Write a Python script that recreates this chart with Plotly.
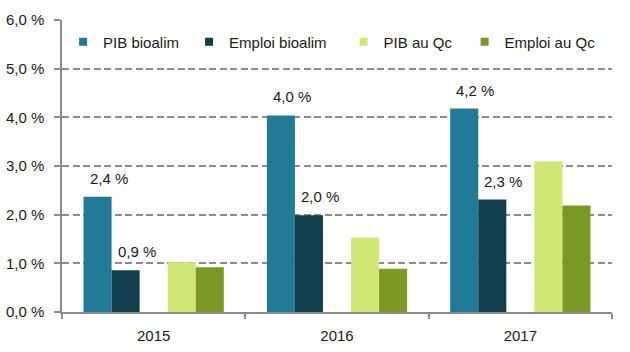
import plotly.graph_objects as go

categories = ["2015", "2016", "2017"]
series_names = ["PIB bioalim", "Emploi bioalim", "PIB au Qc", "Emploi au Qc"]
pib_bioalim = [2.37, 4.04, 4.18]
emploi_bioalim = [0.86, 1.99, 2.31]
pib_qc = [1.02, 1.53, 3.09]
emploi_qc = [0.92, 0.89, 2.19]
y_tick_vals = [0, 1, 2, 3, 4, 5, 6]
y_tick_text = ["0,0 %", "1,0 %", "2,0 %", "3,0 %", "4,0 %", "5,0 %", "6,0 %"]

colors = ["#217a96", "#123f4e", "#d0e775", "#7a9a25"]
FONT = "Liberation Sans, Arial, sans-serif"
TXT = "#1a1a1a"

fig = go.Figure()
values = [pib_bioalim, emploi_bioalim, pib_qc, emploi_qc]

def add_bar(name, vals, color):
    fig.add_trace(go.Bar(x=categories, y=vals, name=name, marker=dict(color=color, line=dict(width=0)),
                         showlegend=False))

add_bar(series_names[0], values[0], colors[0])
add_bar(series_names[1], values[1], colors[1])
# spacer slot between bioalim and Qc groups
fig.add_trace(go.Bar(x=categories, y=[0, 0, 0], showlegend=False, hoverinfo="skip",
                     marker=dict(color="rgba(0,0,0,0)", line=dict(width=0))))
add_bar(series_names[2], values[2], colors[2])
add_bar(series_names[3], values[3], colors[3])

# legend entries (small squares), each in its own legend, on a hidden helper axis
legend_x = [0.002, 0.231, 0.512, 0.732]
for i, (name, c) in enumerate(zip(series_names, colors)):
    lname = "legend" if i == 0 else f"legend{i+1}"
    fig.add_trace(go.Scatter(x=[0], y=[0], mode="markers", name=name, xaxis="x2", yaxis="y2",
                             hoverinfo="skip",
                             marker=dict(symbol="square", size=8, color=c), legend=lname))

def fmt(v):
    return f"{v:.1f} %".replace(".", ",")

for vals, xs in [(pib_bioalim, -56), (emploi_bioalim, -28)]:
    for idx, v in enumerate(vals):
        fig.add_annotation(x=idx, y=v, text=fmt(v), showarrow=False, xref="x", yref="y",
                           xanchor="center", yanchor="bottom", xshift=xs + 11, yshift=8,
                           font=dict(family=FONT, size=15, color=TXT))

legends = {}
for i in range(4):
    key = "legend" if i == 0 else f"legend{i+1}"
    legends[key] = dict(x=legend_x[i], y=0.925, xanchor="left", yanchor="middle",
                        orientation="h", bgcolor="rgba(0,0,0,0)", borderwidth=0,
                        font=dict(family=FONT, size=15, color=TXT), itemwidth=30)

fig.update_layout(
    width=630, height=352,
    margin=dict(l=62, r=18, t=20, b=40),
    paper_bgcolor="white", plot_bgcolor="white",
    barmode="group", bargap=0.235, bargroupgap=0,
    font=dict(family=FONT, size=15, color=TXT),
    xaxis2=dict(visible=False, overlaying="x", range=[1, 2]),
    yaxis2=dict(visible=False, overlaying="y", range=[1, 2]),
    **legends,
)
fig.layout.xaxis.update(type="category", range=[-0.5, 2.5], automargin=False,
                        showline=True, linecolor="#8c8c8c", linewidth=1.5,
                        ticks="outside", tickson="boundaries", ticklen=5, tickcolor="#8c8c8c", tickwidth=1.5,
                        showgrid=False, tickfont=dict(family=FONT, size=15, color=TXT), ticklabelstandoff=9)
fig.layout.yaxis.update(range=[0, 6], tickvals=y_tick_vals, ticktext=y_tick_text, automargin=False,
                        showline=True, linecolor="#8c8c8c", linewidth=1.5,
                        ticks="outside", ticklen=6, tickcolor="#8c8c8c", tickwidth=1.5,
                        showgrid=True, gridcolor="#8c8c8c", gridwidth=1.5, griddash="7px,3.5px",
                        zeroline=False, tickfont=dict(family=FONT, size=15, color=TXT), ticklabelstandoff=7)

fig.write_html("out.html")
